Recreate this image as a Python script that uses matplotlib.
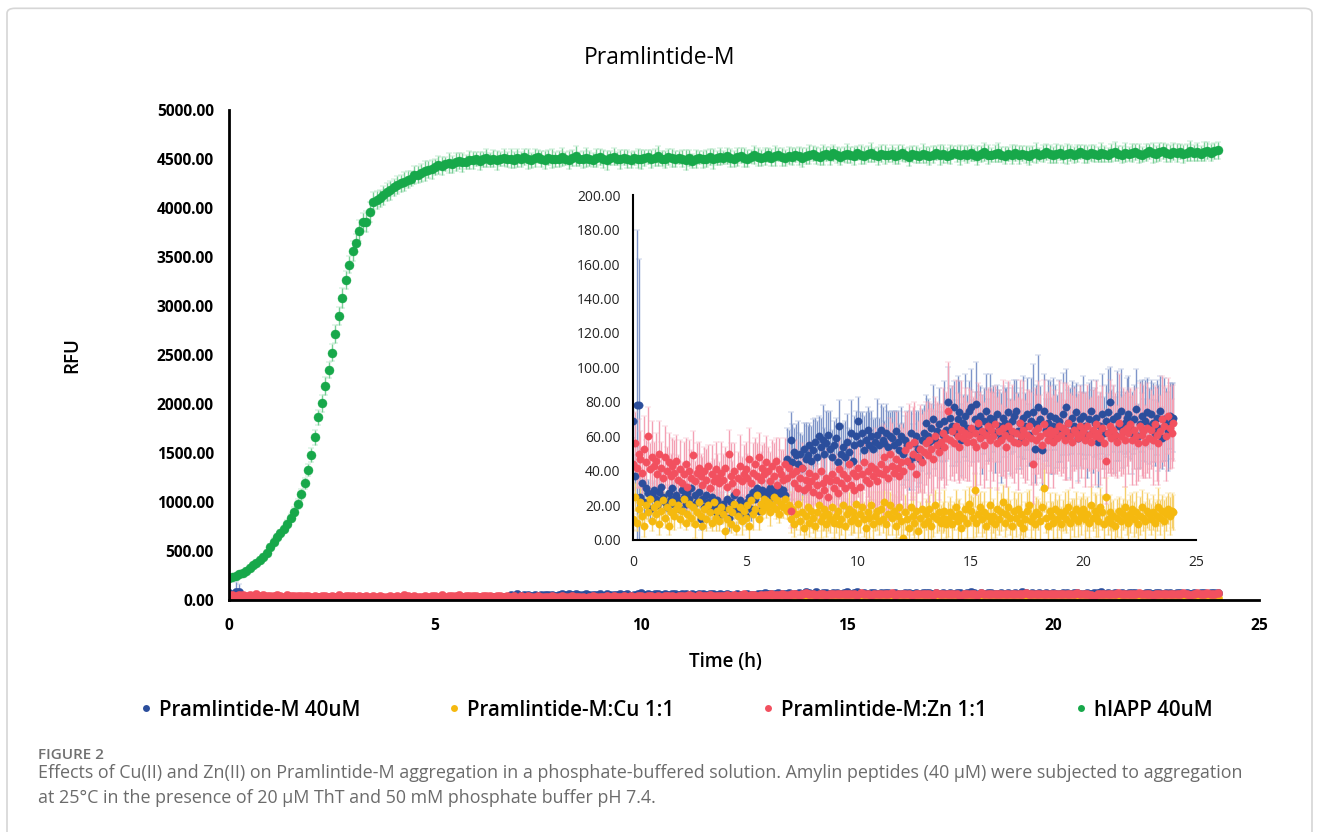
import numpy as np
import matplotlib
matplotlib.use("Agg")
import matplotlib.pyplot as plt
from matplotlib.lines import Line2D
from matplotlib.patches import FancyBboxPatch
from matplotlib.ticker import FormatStrFormatter, MultipleLocator

plt.rcParams['font.family'] = ['Open Sans', 'DejaVu Sans']

series_names = ['Pramlintide-M 40uM', 'Pramlintide-M:Cu 1:1',
                'Pramlintide-M:Zn 1:1', 'hIAPP 40uM']

# ThT readings every 5 min from 0 to 24 h (one row per hour)
time_h = np.arange(289) / 12.0

pram = [
    69, 37, 78, 78, 25, 33, 22, 30, 27, 18, 26, 29,
    24, 20, 28, 31, 25, 22, 19, 27, 24, 30, 21, 26,
    23, 18, 29, 25, 21, 27, 24, 30, 20, 26, 22, 28,
    12, 24, 19, 26, 22, 17, 25, 20, 16, 23, 19, 15,
    21, 18, 24, 13, 22, 17, 26, 19, 15, 23, 20, 17,
    14, 22, 25, 18, 28, 24, 30, 17, 27, 29, 26, 28,
    27, 30, 25, 29, 28, 26, 30, 27, 29, 26, 47, 44,
    58, 45, 51, 49, 44, 50, 42, 53, 47, 49, 55, 46,
    52, 57, 48, 60, 54, 58, 50, 56, 61, 53, 48, 55,
    59, 45, 66, 50, 54, 48, 57, 51, 62, 46, 55, 60,
    69, 56, 62, 52, 58, 64, 55, 60, 53, 57, 61, 55,
    64, 58, 56, 62, 54, 60, 59, 55, 63, 57, 52, 60,
    50, 58, 55, 45, 62, 48, 56, 60, 53, 47, 58, 62,
    68, 60, 57, 65, 70, 58, 63, 67, 55, 61, 69, 64,
    80, 71, 66, 77, 62, 70, 74, 58, 68, 72, 65, 75,
    77, 63, 70, 79, 66, 72, 61, 69, 75, 64, 71, 67,
    70, 62, 73, 66, 59, 71, 68, 64, 74, 60, 69, 72,
    75, 63, 68, 58, 71, 66, 73, 61, 69, 74, 53, 67,
    77, 70, 52, 75, 64, 68, 72, 60, 66, 71, 63, 69,
    65, 73, 60, 77, 68, 62, 71, 66, 74, 59, 70, 64,
    72, 66, 61, 70, 75, 63, 68, 71, 57, 66, 73, 62,
    69, 74, 80, 64, 70, 61, 72, 66, 75, 63, 68, 71,
    73, 65, 62, 70, 76, 60, 67, 72, 64, 69, 74, 66,
    73, 68, 62, 71, 65, 75, 59, 70, 67, 63, 72, 69,
    71]
pram_err = [
    10, 12, 102, 85, 9, 6, 7, 5, 8, 6, 7, 5,
    6, 5, 7, 8, 5, 6, 7, 5, 6, 8, 5, 7,
    5, 7, 6, 8, 5, 6, 7, 6, 5, 7, 6, 8,
    6, 5, 7, 6, 8, 5, 6, 7, 5, 6, 8, 6,
    7, 5, 6, 8, 6, 5, 7, 6, 5, 8, 6, 7,
    6, 8, 5, 7, 6, 8, 7, 5, 6, 7, 8, 6,
    7, 6, 8, 5, 7, 6, 8, 7, 6, 5, 18, 20,
    16, 22, 14, 18, 25, 12, 19, 15, 21, 17, 13, 20,
    18, 14, 21, 12, 17, 20, 15, 19, 13, 22, 16, 14,
    12, 20, 15, 18, 13, 21, 16, 14, 19, 12, 17, 15,
    14, 18, 12, 20, 16, 13, 19, 15, 17, 14, 21, 16,
    15, 19, 13, 17, 21, 14, 16, 20, 12, 18, 15, 17,
    18, 14, 20, 16, 13, 19, 17, 15, 22, 14, 18, 16,
    16, 22, 18, 14, 20, 17, 15, 21, 19, 16, 23, 18,
    20, 17, 23, 15, 19, 25, 18, 21, 16, 24, 19, 17,
    22, 18, 16, 24, 20, 17, 23, 19, 21, 18, 25, 20,
    19, 23, 17, 21, 26, 18, 20, 24, 17, 22, 19, 21,
    18, 22, 20, 17, 24, 19, 21, 18, 25, 28, 20, 23,
    30, 19, 23, 21, 18, 25, 20, 22, 28, 19, 21, 24,
    20, 24, 18, 22, 19, 26, 21, 23, 17, 25, 20, 22,
    23, 19, 25, 21, 18, 24, 20, 22, 26, 19, 23, 21,
    21, 25, 20, 23, 19, 22, 26, 20, 24, 21, 18, 23,
    22, 18, 24, 20, 23, 19, 25, 21, 18, 24, 20, 22,
    20, 23, 19, 22, 25, 20, 18, 24, 21, 23, 19, 22,
    20]

pram_cu = [
    12, 25, 10, 18, 22, 14, 8, 20, 16, 24, 11, 19,
    15, 21, 9, 17, 23, 13, 19, 8, 16, 22, 14, 18,
    20, 12, 17, 24, 10, 15, 21, 13, 19, 9, 16, 22,
    14, 8, 18, 12, 20, 16, 10, 22, 13, 17, 11, 19,
    15, 5, 12, 18, 9, 16, 21, 7, 14, 19, 11, 17,
    13, 20, 8, 23, 15, 18, 26, 12, 21, 17, 24, 19,
    22, 16, 20, 25, 18, 23, 15, 21, 19, 24, 17, 20,
    12, 18, 9, 15, 21, 11, 16, 7, 14, 19, 10, 17,
    13, 8, 16, 20, 11, 14, 18, 9, 15, 12, 19, 10,
    14, 17, 9, 12, 20, 8, 15, 18, 11, 16, 13, 21,
    10, 15, 19, 12, 7, 16, 13, 20, 9, 14, 17, 11,
    18, 12, 22, 9, 15, 20, 13, 17, 8, 14, 19, 11,
    1, 16, 12, 7, 19, 14, 10, 17, 5, 13, 18, 9,
    15, 11, 18, 8, 14, 20, 12, 16, 10, 13, 17, 9,
    12, 16, 9, 14, 19, 11, 15, 7, 13, 18, 10, 21,
    17, 13, 29, 10, 15, 19, 12, 16, 8, 14, 20, 11,
    14, 9, 18, 12, 16, 22, 10, 15, 19, 13, 8, 17,
    13, 18, 10, 15, 7, 12, 17, 20, 11, 14, 9, 16,
    15, 11, 19, 30, 13, 8, 17, 14, 10, 18, 12, 16,
    9, 14, 17, 12, 19, 10, 15, 13, 18, 11, 16, 14,
    18, 12, 15, 10, 20, 13, 17, 14, 11, 19, 16, 9,
    25, 12, 16, 10, 14, 8, 13, 17, 11, 15, 19, 13,
    10, 15, 18, 12, 16, 9, 14, 19, 13, 11, 17, 15,
    12, 16, 10, 14, 19, 13, 17, 11, 15, 18, 14, 17,
    16]
pram_cu_err = [
    6, 8, 5, 7, 9, 4, 6, 8, 5, 7, 6, 9,
    5, 7, 6, 8, 4, 6, 9, 5, 7, 6, 8, 5,
    7, 5, 8, 6, 4, 7, 9, 5, 6, 8, 5, 7,
    6, 8, 5, 7, 6, 9, 5, 7, 8, 4, 6, 7,
    5, 7, 6, 8, 5, 6, 9, 4, 7, 6, 8, 5,
    7, 5, 8, 6, 9, 5, 7, 6, 8, 5, 7, 6,
    6, 8, 5, 7, 6, 9, 5, 8, 6, 7, 5, 8,
    8, 10, 7, 9, 12, 8, 10, 7, 11, 9, 8, 10,
    9, 7, 11, 8, 10, 9, 12, 7, 10, 8, 11, 9,
    10, 8, 12, 9, 7, 11, 9, 10, 8, 12, 9, 7,
    9, 11, 8, 10, 9, 7, 12, 8, 10, 9, 11, 8,
    10, 8, 11, 9, 12, 8, 10, 9, 7, 11, 9, 10,
    8, 10, 9, 12, 8, 11, 9, 10, 8, 9, 11, 10,
    9, 11, 8, 10, 12, 9, 8, 11, 10, 9, 12, 8,
    10, 9, 11, 8, 10, 12, 9, 10, 8, 11, 9, 10,
    9, 12, 10, 8, 11, 9, 10, 12, 9, 8, 10, 11,
    10, 8, 12, 9, 11, 10, 8, 9, 12, 10, 9, 11,
    11, 9, 10, 12, 8, 10, 11, 9, 10, 8, 12, 9,
    9, 11, 10, 14, 9, 11, 10, 8, 12, 9, 11, 10,
    10, 9, 11, 8, 10, 12, 9, 11, 10, 9, 8, 11,
    9, 12, 10, 9, 11, 8, 10, 12, 9, 11, 10, 9,
    11, 9, 10, 12, 9, 10, 11, 8, 10, 9, 12, 10,
    10, 11, 9, 10, 12, 9, 11, 10, 8, 11, 10, 9,
    9, 10, 12, 9, 11, 10, 9, 12, 10, 9, 11, 10,
    10]

pram_zn = [
    44, 56, 42, 50, 47, 39, 53, 45, 60, 41, 48, 43,
    46, 38, 50, 42, 36, 48, 40, 45, 37, 43, 39, 46,
    35, 41, 33, 38, 44, 31, 40, 36, 49, 34, 39, 42,
    37, 32, 40, 35, 43, 30, 38, 34, 41, 36, 33, 39,
    35, 42, 31, 50, 37, 33, 40, 28, 36, 43, 34, 38,
    41, 36, 47, 33, 39, 44, 37, 48, 35, 42, 38, 45,
    40, 34, 43, 37, 46, 32, 41, 38, 35, 44, 36, 42,
    17, 38, 33, 40, 30, 36, 42, 29, 35, 31, 39, 34,
    28, 37, 32, 26, 40, 33, 29, 36, 25, 34, 38, 30,
    35, 27, 41, 33, 38, 30, 36, 44, 32, 39, 29, 37,
    42, 31, 38, 45, 35, 40, 33, 43, 37, 41, 34, 39,
    44, 38, 48, 41, 36, 50, 43, 39, 47, 42, 37, 45,
    40, 52, 46, 55, 43, 50, 57, 38, 48, 53, 45, 51,
    56, 49, 58, 53, 47, 60, 55, 51, 57, 62, 54, 59,
    75, 58, 63, 56, 66, 60, 54, 64, 59, 62, 57, 61,
    65, 57, 62, 54, 68, 59, 63, 55, 61, 66, 58, 64,
    60, 67, 56, 63, 58, 65, 61, 54, 66, 59, 63, 57,
    62, 56, 68, 60, 64, 57, 61, 66, 59, 44, 63, 58,
    65, 60, 55, 67, 62, 58, 64, 61, 57, 63, 59, 66,
    61, 65, 58, 63, 68, 60, 57, 64, 62, 59, 66, 61,
    63, 58, 66, 61, 57, 64, 60, 67, 62, 59, 65, 56,
    46, 62, 66, 59, 64, 61, 57, 68, 60, 63, 58, 65,
    62, 67, 58, 64, 60, 56, 66, 61, 63, 57, 65, 59,
    64, 58, 67, 61, 56, 63, 70, 66, 60, 72, 65, 62,
    68]
pram_zn_err = [
    15, 18, 12, 20, 16, 14, 19, 13, 17, 15, 21, 14,
    16, 13, 19, 15, 12, 18, 14, 17, 13, 16, 19, 15,
    14, 17, 12, 19, 15, 13, 18, 16, 14, 12, 17, 15,
    13, 16, 14, 18, 12, 15, 17, 13, 16, 14, 12, 18,
    15, 12, 17, 14, 19, 13, 16, 12, 15, 18, 14, 17,
    16, 14, 18, 13, 17, 15, 19, 14, 16, 13, 18, 15,
    14, 17, 15, 19, 13, 16, 18, 14, 17, 15, 13, 16,
    10, 15, 13, 18, 12, 16, 14, 17, 13, 15, 18, 14,
    13, 16, 12, 15, 18, 14, 13, 17, 12, 15, 16, 14,
    15, 13, 17, 14, 16, 12, 18, 15, 13, 17, 14, 16,
    17, 14, 19, 16, 22, 15, 18, 20, 16, 24, 17, 19,
    22, 26, 19, 24, 28, 21, 25, 20, 27, 23, 26, 22,
    25, 22, 28, 24, 20, 27, 23, 26, 21, 25, 28, 24,
    24, 27, 22, 26, 29, 23, 25, 28, 22, 26, 24, 27,
    28, 23, 26, 22, 27, 25, 21, 28, 24, 26, 23, 27,
    22, 26, 24, 28, 23, 27, 21, 25, 26, 22, 28, 24,
    26, 22, 27, 24, 21, 28, 25, 23, 26, 22, 27, 24,
    23, 27, 25, 22, 28, 24, 26, 21, 27, 23, 25, 26,
    27, 24, 22, 26, 23, 28, 25, 22, 27, 24, 21, 26,
    24, 26, 23, 28, 22, 25, 27, 24, 21, 26, 23, 25,
    22, 27, 24, 21, 26, 23, 28, 25, 22, 27, 24, 20,
    25, 23, 27, 22, 26, 24, 21, 28, 23, 25, 27, 22,
    24, 21, 26, 23, 28, 22, 25, 24, 27, 21, 26, 23,
    23, 26, 22, 27, 24, 21, 25, 23, 26, 22, 24, 20,
    22]

hiapp = [
    220, 235, 250, 262, 280, 300, 330, 355, 380, 410, 442, 480,
    540, 595, 640, 680, 720, 780, 840, 900, 980, 1080, 1190, 1326,
    1480, 1660, 1864, 2007, 2187, 2347, 2523, 2714, 2898, 3082, 3265, 3422,
    3561, 3643, 3769, 3857, 3860, 3959, 4065, 4080, 4100, 4130, 4166, 4180,
    4210, 4235, 4250, 4270, 4290, 4300, 4337, 4340, 4360, 4375, 4390, 4395,
    4420, 4440, 4430, 4450, 4460, 4445, 4470, 4480, 4465, 4470, 4490, 4485,
    4500, 4480, 4495, 4510, 4490, 4505, 4485, 4500, 4515, 4495, 4505, 4490,
    4510, 4495, 4520, 4500, 4485, 4510, 4525, 4500, 4490, 4515, 4505, 4495,
    4500, 4520, 4505, 4490, 4510, 4530, 4500, 4495, 4515, 4505, 4490, 4510,
    4520, 4500, 4485, 4510, 4525, 4505, 4495, 4515, 4500, 4490, 4510, 4505,
    4495, 4510, 4520, 4500, 4515, 4530, 4505, 4495, 4520, 4510, 4500, 4515,
    4505, 4490, 4510, 4480, 4500, 4515, 4495, 4505, 4520, 4500, 4510, 4525,
    4515, 4530, 4510, 4500, 4520, 4535, 4515, 4505, 4525, 4540, 4520, 4510,
    4525, 4540, 4515, 4530, 4545, 4520, 4510, 4535, 4525, 4540, 4530, 4515,
    4530, 4545, 4555, 4535, 4525, 4540, 4550, 4530, 4560, 4540, 4525, 4545,
    4555, 4540, 4530, 4560, 4545, 4535, 4550, 4565, 4540, 4530, 4555, 4545,
    4540, 4555, 4530, 4545, 4560, 4540, 4525, 4550, 4545, 4535, 4555, 4540,
    4530, 4545, 4560, 4540, 4550, 4535, 4545, 4565, 4550, 4540, 4555, 4545,
    4560, 4545, 4535, 4550, 4570, 4545, 4540, 4555, 4565, 4545, 4535, 4550,
    4545, 4560, 4540, 4555, 4545, 4530, 4550, 4560, 4545, 4555, 4570, 4550,
    4540, 4555, 4565, 4545, 4550, 4560, 4540, 4555, 4570, 4550, 4545, 4560,
    4555, 4545, 4565, 4550, 4540, 4560, 4575, 4555, 4545, 4565, 4550, 4560,
    4570, 4555, 4545, 4565, 4580, 4560, 4550, 4570, 4585, 4560, 4555, 4575,
    4560, 4575, 4550, 4565, 4580, 4560, 4570, 4555, 4575, 4585, 4565, 4580,
    4590]
hiapp_err = [
    22, 25, 20, 24, 26, 22, 25, 28, 24, 27, 30, 28,
    32, 35, 30, 38, 36, 40, 42, 45, 50, 55, 60, 65,
    70, 75, 80, 85, 90, 80, 85, 95, 90, 100, 95, 90,
    100, 95, 110, 90, 105, 100, 95, 90, 85, 95, 90, 100,
    90, 95, 85, 100, 90, 80, 95, 85, 90, 100, 85, 95,
    80, 95, 90, 75, 100, 85, 90, 80, 95, 70, 90, 85,
    75, 90, 80, 95, 70, 85, 100, 75, 90, 80, 95, 85,
    90, 75, 85, 100, 80, 95, 70, 85, 90, 75, 100, 80,
    85, 95, 70, 90, 80, 100, 75, 85, 95, 80, 70, 90,
    80, 90, 100, 75, 85, 70, 95, 80, 90, 85, 75, 100,
    95, 80, 70, 90, 85, 100, 75, 90, 80, 95, 85, 70,
    85, 100, 80, 75, 95, 70, 90, 85, 80, 100, 75, 90,
    70, 85, 95, 80, 90, 75, 100, 85, 70, 90, 95, 80,
    90, 75, 85, 100, 70, 95, 80, 90, 85, 75, 90, 100,
    80, 95, 75, 90, 85, 100, 70, 95, 80, 85, 90, 75,
    95, 80, 90, 70, 100, 85, 80, 95, 75, 90, 85, 100,
    75, 90, 85, 95, 80, 70, 100, 85, 90, 75, 95, 80,
    90, 85, 75, 100, 90, 80, 95, 70, 85, 100, 80, 90,
    85, 70, 95, 80, 90, 100, 75, 85, 95, 80, 90, 75,
    100, 80, 90, 75, 85, 95, 80, 100, 70, 90, 85, 95,
    80, 95, 75, 90, 100, 85, 80, 90, 75, 95, 85, 80,
    90, 80, 100, 85, 75, 90, 95, 80, 85, 100, 75, 90,
    85, 95, 80, 90, 75, 100, 85, 90, 80, 95, 90, 85,
    95, 80, 90, 85, 100, 80, 90, 75, 95, 85, 90, 80,
    85]

colors = ['#2b4e9c', '#f5b90f', '#f2505f', '#17a84a']
err_colors = ['#7f95c9', '#f6cf6a', '#f4a1b4', '#78cf96']


def draw_series(ax, y, err, i, ms):
    ax.errorbar(time_h, y, yerr=err, fmt='o', color=colors[i], ms=ms,
                mec=colors[i], mew=0.3, ecolor=err_colors[i], elinewidth=1.0,
                capsize=2.5, capthick=1.0)


fig = plt.figure(figsize=(13.19, 8.32), dpi=100)

# light card border around the whole figure
fig.patches.append(FancyBboxPatch((7 / 1319, -0.05), 1305 / 1319, 1.04,
                                  boxstyle='round,pad=0,rounding_size=0.006',
                                  transform=fig.transFigure, fc='none',
                                  ec='#d6d6d6', lw=1.2))

# main axes
ax = fig.add_axes([0.1736, 0.2788, 0.7809, 0.589])
draw_series(ax, pram, pram_err, 0, 6)
draw_series(ax, pram_cu, pram_cu_err, 1, 6)
draw_series(ax, pram_zn, pram_zn_err, 2, 6)
draw_series(ax, hiapp, hiapp_err, 3, 6.5)
ax.set_xlim(0, 25)
ax.set_ylim(0, 5000)
ax.xaxis.set_major_locator(MultipleLocator(5))
ax.yaxis.set_major_locator(MultipleLocator(500))
ax.yaxis.set_major_formatter(FormatStrFormatter('%.2f'))
for s in ['top', 'right']:
    ax.spines[s].set_visible(False)
for s in ['left', 'bottom']:
    ax.spines[s].set_linewidth(2)
    ax.spines[s].set_color('black')
ax.tick_params(axis='y', length=0, pad=11, labelsize=11.2)
ax.tick_params(axis='x', length=0, pad=13, labelsize=11.2)
for lab in ax.get_xticklabels() + ax.get_yticklabels():
    lab.set_fontweight('bold')

# inset zoom on the three low series
ins = fig.add_axes([0.4799, 0.3510, 0.4268, 0.4146])
ins.patch.set_alpha(0)
draw_series(ins, pram, pram_err, 0, 5.3)
draw_series(ins, pram_cu, pram_cu_err, 1, 5.3)
draw_series(ins, pram_zn, pram_zn_err, 2, 5.3)
ins.set_xlim(0, 25)
ins.set_ylim(0, 200)
ins.xaxis.set_major_locator(MultipleLocator(5))
ins.yaxis.set_major_locator(MultipleLocator(20))
ins.yaxis.set_major_formatter(FormatStrFormatter('%.2f'))
for s in ['top', 'right']:
    ins.spines[s].set_visible(False)
for s in ['left', 'bottom']:
    ins.spines[s].set_linewidth(1.5)
    ins.spines[s].set_color('black')
ins.tick_params(axis='y', length=0, pad=9, labelsize=10, labelcolor='#222222')
ins.tick_params(axis='x', length=0, pad=11, labelsize=10, labelcolor='#222222')

fig.text(0.5, 1 - 58 / 832, 'Pramlintide-M', ha='center', va='center',
         fontsize=16.5)
fig.text(72 / 1319, 1 - 355 / 832, 'RFU', rotation=90, ha='center',
         va='center', fontsize=13.5, fontweight='semibold')
fig.text(725 / 1319, 1 - 662 / 832, 'Time (h)', ha='center', va='center',
         fontsize=13.5, fontweight='semibold')

handles = [Line2D([], [], ls='none', marker='o', ms=5, color=c, mew=0)
           for c in colors]
fig.legend(handles, series_names, loc='center',
           bbox_to_anchor=(0.5127, 1 - 710 / 832), ncol=4, frameon=False,
           prop={'size': 14.8, 'weight': 'semibold'}, handlelength=0.6,
           handletextpad=0.33, columnspacing=4.26)

# caption
fig.text(38 / 1319, 1 - 755 / 832, 'FIGURE 2', ha='left', va='center',
         fontsize=11, color='#707070', fontweight='semibold')
fig.text(38 / 1319, 1 - 773 / 832,
         'Effects of Cu(II) and Zn(II) on Pramlintide-M aggregation in a '
         'phosphate-buffered solution. Amylin peptides (40 μM) were '
         'subjected to aggregation',
         ha='left', va='center', fontsize=12.9, color='#6b6b6b')
fig.text(38 / 1319, 1 - 798 / 832,
         'at 25°C in the presence of 20 μM ThT and 50 mM phosphate buffer '
         'pH 7.4.',
         ha='left', va='center', fontsize=12.9, color='#6b6b6b')

fig.savefig('out.png', dpi=100)
